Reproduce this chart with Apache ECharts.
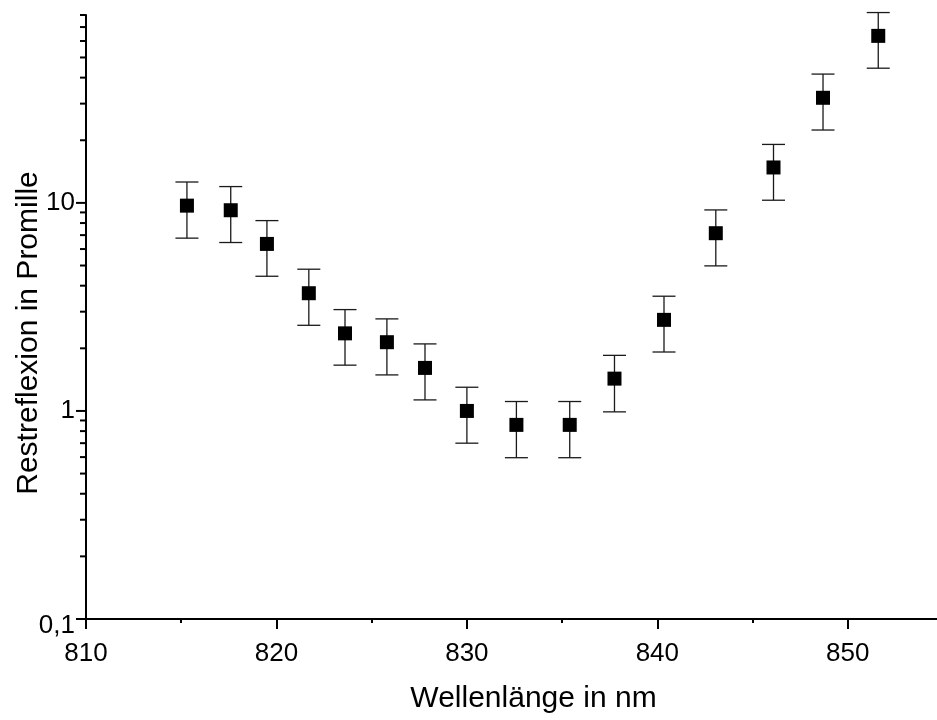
<!DOCTYPE html>
<html><head><meta charset="utf-8">
<script src="https://cdn.jsdelivr.net/npm/echarts@6/dist/echarts.min.js"></script>
<style>html,body{margin:0;padding:0;background:#fff}#c{width:937px;height:720px}</style>
</head><body><div id="c"></div>
<script>
// Wavelength in nm
const wavelengths = [815.3, 817.6, 819.5, 821.7, 823.6, 825.8, 827.8, 830.0, 832.6, 835.4, 837.75, 840.35, 843.07, 846.1, 848.7, 851.6];
// Restreflexion in Promille (measured value)
const reflex  = [9.7, 9.22, 6.35, 3.68, 2.36, 2.14, 1.61, 1.0, 0.857, 0.857, 1.43, 2.74, 7.15, 14.8, 32.0, 63.5];
// error bar lower / upper ends
const errLow  = [6.77, 6.45, 4.44, 2.58, 1.66, 1.49, 1.13, 0.70, 0.596, 0.596, 0.99, 1.92, 4.98, 10.3, 22.4, 44.4];
const errHigh = [12.6, 11.98, 8.22, 4.80, 3.07, 2.77, 2.10, 1.30, 1.11, 1.11, 1.85, 3.56, 9.25, 19.1, 41.6, 82.2];
const yMajorTicks = [0.1, 1, 10];
const yMinorTicks = [0.2, 0.3, 0.4, 0.5, 0.6, 0.7, 0.8, 0.9, 2, 3, 4, 5, 6, 7, 8, 9, 20, 30, 40, 50, 60, 70, 80];
const xMin = 810, xMax = 855, xStep = 10;
const yMin = 0.1, yMax = 80;

const FONT = '"Liberation Sans", Arial, Helvetica, sans-serif';
const chart = echarts.init(document.getElementById('c'), null, {renderer: 'canvas'});

const tickData = yMajorTicks.map(v => [xMin, v, 1]).concat(yMinorTicks.map(v => [xMin, v, 0]));

chart.setOption({
  animation: false,
  backgroundColor: '#fff',
  grid: {left: 86, right: -6, top: 15, bottom: 101, containLabel: false, outerBoundsMode: 'none'},
  xAxis: {
    type: 'value', min: xMin, max: xMax, interval: xStep,
    name: 'Wellenlänge in nm', nameLocation: 'middle', nameGap: 65, nameMoveOverlap: false,
    nameTextStyle: {fontFamily: FONT, fontSize: 30, color: '#000', padding: [0, 0, 0, 38]},
    axisLine: {show: true, onZero: false, lineStyle: {color: '#000', width: 2}},
    axisTick: {show: true, inside: false, length: 10, lineStyle: {color: '#000', width: 2}},
    minorTick: {show: true, splitNumber: 2, length: 4, lineStyle: {color: '#000', width: 2}},
    axisLabel: {fontFamily: FONT, fontSize: 26, color: '#000', margin: 22, showMaxLabel: false,
      formatter: v => (Math.abs(v - xMax) < 1e-6 ? '' : String(v))},
    splitLine: {show: false}, minorSplitLine: {show: false}
  },
  yAxis: {
    type: 'log', logBase: 10, min: yMin, max: yMax,
    name: 'Restreflexion in Promille', nameLocation: 'middle', nameGap: 42, nameMoveOverlap: false,
    nameTextStyle: {fontFamily: FONT, fontSize: 30, color: '#000', padding: [0, 32, 0, 0]},
    axisLine: {show: true, onZero: false, lineStyle: {color: '#000', width: 2}},
    axisTick: {show: false},
    axisLabel: {fontFamily: FONT, fontSize: 26, color: '#000', margin: 11, showMaxLabel: false,
      formatter: v => {
        const r = +(+v).toPrecision(6);
        if (!yMajorTicks.includes(r)) return '';
        const s = String(r).replace('.', ',');
        return r === yMin ? '{low|' + s + '}' : s;
      },
      rich: {low: {fontFamily: FONT, fontSize: 26, color: '#000', padding: [14, 0, 0, 0]}}},
    splitLine: {show: false}
  },
  series: [
    {
      type: 'custom', name: 'yticks', silent: true, clip: false, z: 5,
      data: tickData,
      renderItem: (params, api) => {
        const p = api.coord([api.value(0), api.value(1)]);
        const len = api.value(2) ? 10 : 6;
        return {type: 'line', shape: {x1: p[0] - len, y1: p[1], x2: p[0], y2: p[1]},
          style: {stroke: '#000', lineWidth: 2}};
      }
    },
    {
      type: 'custom', name: 'errors', silent: true, clip: false, z: 3,
      data: wavelengths.map((x, i) => [x, errLow[i], errHigh[i]]),
      renderItem: (params, api) => {
        const lo = api.coord([api.value(0), api.value(1)]);
        const hi = api.coord([api.value(0), api.value(2)]);
        const w = 11.5;
        const st = {stroke: '#1a1a1a', lineWidth: 1.3};
        return {type: 'group', children: [
          {type: 'line', shape: {x1: lo[0], y1: lo[1], x2: hi[0], y2: hi[1]}, style: st},
          {type: 'line', shape: {x1: lo[0] - w, y1: lo[1], x2: lo[0] + w, y2: lo[1]}, style: st},
          {type: 'line', shape: {x1: hi[0] - w, y1: hi[1], x2: hi[0] + w, y2: hi[1]}, style: st}
        ]};
      }
    },
    {
      type: 'scatter', name: 'Restreflexion', z: 4,
      symbol: 'rect', symbolSize: 14,
      itemStyle: {color: '#000', opacity: 1},
      data: wavelengths.map((x, i) => [x, reflex[i]])
    }
  ]
});
</script>
</body></html>
